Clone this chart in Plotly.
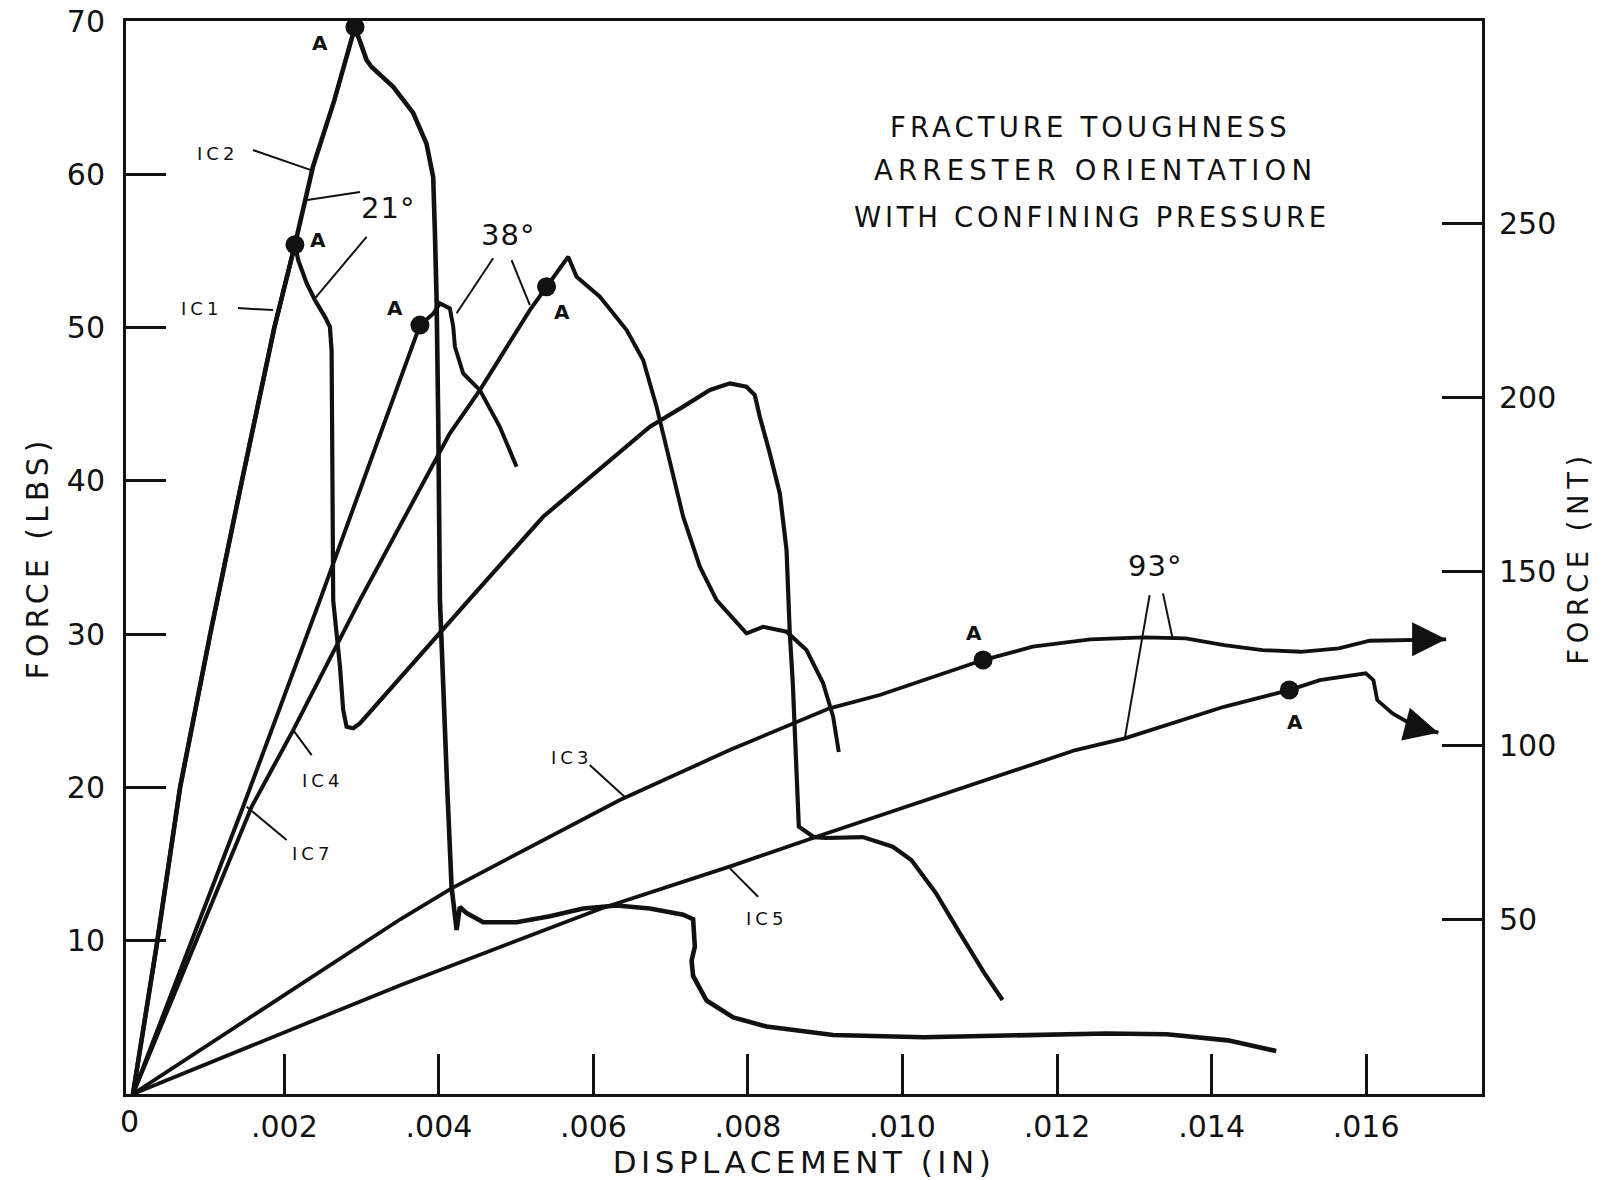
import plotly.graph_objects as go

# ---------------------------------------------------------------
# Load-displacement records (displacement in inches, force in lbs)
# ---------------------------------------------------------------
# 21 degree arrester orientation
ic2_d = [0.00004, 0.00035, 0.00065, 0.00104, 0.00145, 0.00187, 0.002136, 0.00237,
         0.002645, 0.002913, 0.003064, 0.003129, 0.003408, 0.003667, 0.003839,
         0.003926, 0.003948, 0.00397, 0.003991, 0.004013, 0.004103, 0.004164,
         0.004229, 0.004271, 0.004358, 0.004573, 0.005005, 0.005436, 0.005867,
         0.006299, 0.00673, 0.007161, 0.00729, 0.007312, 0.00727, 0.00729,
         0.007464, 0.007808, 0.00824, 0.009102, 0.010272, 0.011453, 0.012631,
         0.01342, 0.01421, 0.014837]
ic2_f = [0, 9.8, 20, 30, 40, 50, 55.4, 60.5,
         64.8, 69.6, 67.45, 67.0, 65.7, 64.0, 62.0,
         59.8, 56.2, 51.8, 44.0, 32.2, 20.5, 13.5,
         10.7, 12.2, 11.8, 11.2, 11.2, 11.6, 12.1,
         12.3, 12.1, 11.7, 11.4, 9.6, 8.7, 7.7,
         6.1, 5.0, 4.4, 3.85, 3.7, 3.8, 3.95,
         3.9, 3.5, 2.8]

ic1_d = [0.00004, 0.00035, 0.00065, 0.00104, 0.00145, 0.00187, 0.002136, 0.002179,
         0.002288, 0.002395, 0.002525, 0.002589, 0.002611, 0.002615, 0.002632,
         0.002719, 0.002761, 0.002805, 0.002891, 0.002977, 0.00397, 0.004401,
         0.005349, 0.006731, 0.007162, 0.007507, 0.007766, 0.00798, 0.008088,
         0.008153, 0.008283, 0.008412, 0.008499, 0.008541, 0.00858, 0.008619,
         0.008658, 0.008852, 0.009007, 0.009486, 0.009874, 0.010114, 0.010431,
         0.010742, 0.011059, 0.011295]
ic1_f = [0, 9.8, 20, 30, 40, 50, 55.4, 54.4,
         52.9, 51.8, 50.7, 50.05, 48.5, 44.0, 32.2,
         27.9, 25.05, 23.96, 23.86, 24.18, 29.9, 32.3,
         37.66, 43.53, 44.84, 45.93, 46.36, 46.14, 45.6,
         44.18, 41.79, 39.18, 35.49, 30.07, 26.81, 22.44,
         17.44, 16.76, 16.7, 16.76, 16.13, 15.26, 13.11,
         10.5, 7.89, 6.13]

# 38 degree arrester orientation
ic7_d = [0.00004, 0.001464, 0.00246, 0.003754, 0.003926, 0.004013, 0.004142,
         0.004185, 0.004207, 0.004314, 0.00453, 0.004788, 0.005005]
ic7_f = [0, 18.72, 32.22, 50.16, 50.9, 51.58, 51.25,
         50.06, 48.75, 47.01, 45.92, 43.53, 40.92]

ic4_d = [0.00004, 0.001576, 0.002114, 0.002977, 0.004142, 0.00453, 0.005177,
         0.005393, 0.005673, 0.005782, 0.006083, 0.006429, 0.006643, 0.006817,
         0.006989, 0.007161, 0.007377, 0.007593, 0.007981, 0.008196, 0.008499,
         0.008757, 0.008973, 0.009102, 0.009175]
ic4_f = [0, 18.74, 23.74, 32.22, 43.1, 45.92, 51.14,
         52.66, 54.62, 53.32, 52.01, 49.84, 47.88, 44.84,
         41.36, 37.66, 34.4, 32.22, 30.05, 30.48, 30.16,
         28.96, 26.79, 24.61, 22.31]

# 93 degree arrester orientation
ic3_d = [0.00004, 0.0035, 0.004164, 0.005867, 0.006342, 0.007764, 0.009056,
         0.009706, 0.011043, 0.011686, 0.01243, 0.013122, 0.013666, 0.014163,
         0.014658, 0.015154, 0.015646, 0.016047, 0.01664, 0.017036]
ic3_f = [0, 11.4, 13.42, 17.87, 19.18, 22.44, 25.16,
         26.03, 28.31, 29.18, 29.66, 29.79, 29.73, 29.29,
         28.96, 28.85, 29.07, 29.57, 29.66, 29.66]

ic5_d = [0.00004, 0.0035, 0.0061, 0.0078, 0.008887, 0.01224, 0.012877,
         0.01416, 0.015006, 0.0154, 0.015995, 0.016095, 0.016144, 0.016342,
         0.01664, 0.016936]
ic5_f = [0, 7.1, 12.1, 14.9, 16.78, 22.44, 23.2,
         25.26, 26.35, 27.0, 27.44, 27.0, 25.7, 24.83,
         23.96, 23.57]

# crack initiation points "A"
a_d = [0.002913, 0.002136, 0.003754, 0.005393, 0.011043, 0.015006]
a_f = [69.6, 55.4, 50.16, 52.66, 28.31, 26.35]

# axis ticks
x_ticks = [0.002, 0.004, 0.006, 0.008, 0.010, 0.012, 0.014, 0.016]
x_ticktext = [".002", ".004", ".006", ".008", ".010", ".012", ".014", ".016"]
y_ticks = [10, 20, 30, 40, 50, 60, 70]
nt_ticks = [50, 100, 150, 200, 250]
LBS_TO_NT = 4.40

FONT = "DejaVu Sans"
INK = "#111111"


def spaced(text, px):
    return f'<span style="letter-spacing:{px}px">{text}</span>'


fig = go.Figure()

curves = [
    (ic7_d, ic7_f, 4.0),
    (ic4_d, ic4_f, 4.0),
    (ic3_d, ic3_f, 3.8),
    (ic5_d, ic5_f, 3.8),
    (ic1_d, ic1_f, 4.2),
    (ic2_d, ic2_f, 4.6),
]
for xs, ys, w in curves:
    fig.add_trace(go.Scatter(x=xs, y=ys, mode="lines",
                             line=dict(color=INK, width=w),
                             hoverinfo="skip", showlegend=False))

fig.add_trace(go.Scatter(x=a_d, y=a_f, mode="markers",
                         marker=dict(color=INK, size=19),
                         hoverinfo="skip", showlegend=False))

# invisible trace so the newton scale gets its own axis
fig.add_trace(go.Scatter(x=[None], y=[None], yaxis="y2", showlegend=False,
                         hoverinfo="skip"))

annotations = []

# "A" letters beside each initiation point
a_label_pos = [(0.002461, 68.54), (0.002438, 55.7), (0.00343, 51.25),
               (0.005588, 51.03), (0.01092, 30.05), (0.01508, 24.29)]
for (lx, ly) in a_label_pos:
    annotations.append(dict(x=lx, y=ly, xref="x", yref="y", text="A",
                            showarrow=False,
                            font=dict(family=FONT, size=20, color=INK, weight="bold")))

# specimen names and orientation angles
labels = [
    ("IC2", 0.00114, 61.38, 18, 4),
    ("IC1", 0.000933, 51.27, 18, 4),
    ("IC4", 0.002499, 20.42, 18, 4),
    ("IC7", 0.002369, 15.66, 18, 4),
    ("IC3", 0.005721, 21.98, 18, 4),
    ("IC5", 0.008244, 11.42, 18, 4),
    ("21°", 0.00334, 57.8, 29, 1),
    ("38°", 0.004893, 56.04, 29, 1),
    ("93°", 0.013265, 34.44, 29, 1),
]
for text, lx, ly, size, sp in labels:
    annotations.append(dict(x=lx, y=ly, xref="x", yref="y", text=spaced(text, sp),
                            showarrow=False,
                            font=dict(family=FONT, size=size, color=INK)))

# leader lines from the labels to their curves
leaders = [
    (0.001593, 61.58, 0.002345, 60.27),
    (0.001399, 51.27, 0.001852, 51.14),
    (0.002978, 58.85, 0.002295, 58.32),
    (0.003064, 55.92, 0.002395, 51.9),
    (0.004702, 54.52, 0.004229, 50.93),
    (0.00494, 54.4, 0.005177, 51.47),
    (0.002353, 22.11, 0.002114, 23.74),
    (0.002029, 16.57, 0.001511, 18.74),
    (0.005952, 21.46, 0.006406, 19.37),
    (0.008131, 12.87, 0.007766, 14.72),
    (0.013198, 32.55, 0.012877, 23.2),
    (0.013371, 32.66, 0.013495, 29.73),
]
shapes = [dict(type="line", xref="x", yref="y", x0=x0, y0=y0, x1=x1, y1=y1,
               line=dict(color=INK, width=2)) for x0, y0, x1, y1 in leaders]

# arrowheads on the two curves that run off the record
for xs, ys in [(ic3_d, ic3_f), (ic5_d, ic5_f)]:
    annotations.append(dict(x=xs[-1], y=ys[-1], ax=xs[-2], ay=ys[-2],
                            xref="x", yref="y", axref="x", ayref="y",
                            text="", showarrow=True, arrowhead=2,
                            arrowsize=2.0, arrowwidth=3.4, arrowcolor=INK,
                            standoff=0, startstandoff=0))

# chart title block
title_lines = [("FRACTURE TOUGHNESS", 0.012437, 63.08, 4.1),
               ("ARRESTER ORIENTATION", 0.012502, 60.26, 5.2),
               ("WITH CONFINING PRESSURE", 0.01245, 57.19, 3.7)]
for text, tx, ty, sp in title_lines:
    annotations.append(dict(x=tx, y=ty, xref="x", yref="y", text=spaced(text, sp),
                            showarrow=False,
                            font=dict(family=FONT, size=27.5, color=INK)))

# origin label of the displacement axis
annotations.append(dict(x=0, y=0, xref="x", yref="paper", text="0",
                        showarrow=False, yanchor="top", yshift=-8,
                        font=dict(family=FONT, size=30, color=INK)))

tick_font = dict(family=FONT, size=30, color=INK)
axis_common = dict(showgrid=False, zeroline=False, showline=True, linecolor=INK,
                   linewidth=3, ticks="inside", ticklen=40, tickwidth=3,
                   tickcolor=INK, tickfont=tick_font, automargin=False)

fig.update_layout(
    width=1604, height=1180,
    margin=dict(l=126, r=122, t=21, b=86),
    paper_bgcolor="white", plot_bgcolor="white",
    font=dict(family=FONT, color=INK),
    xaxis=dict(range=[-0.00005, 0.0175], tickvals=x_ticks, ticktext=x_ticktext,
               mirror=True, ticklabelstandoff=4,
               title=dict(text=spaced("DISPLACEMENT (IN)", 4.5),
                          font=dict(family=FONT, size=31, color=INK), standoff=20),
               **axis_common),
    yaxis=dict(range=[0, 70], tickvals=y_ticks, ticktext=[str(v) for v in y_ticks],
               mirror=True, ticklabelstandoff=12,
               title=dict(text=spaced("FORCE (LBS)", 5),
                          font=dict(family=FONT, size=30, color=INK), standoff=10),
               **axis_common),
    yaxis2=dict(range=[0, 70 * LBS_TO_NT], overlaying="y", side="right",
                tickvals=nt_ticks, ticktext=[str(v) for v in nt_ticks],
                ticklabelstandoff=8,
                title=dict(text=spaced("FORCE (NT)", 5.5),
                           font=dict(family=FONT, size=27.5, color=INK), standoff=14),
                **axis_common),
    annotations=annotations,
    shapes=shapes,
)

fig.write_html("out.html")
